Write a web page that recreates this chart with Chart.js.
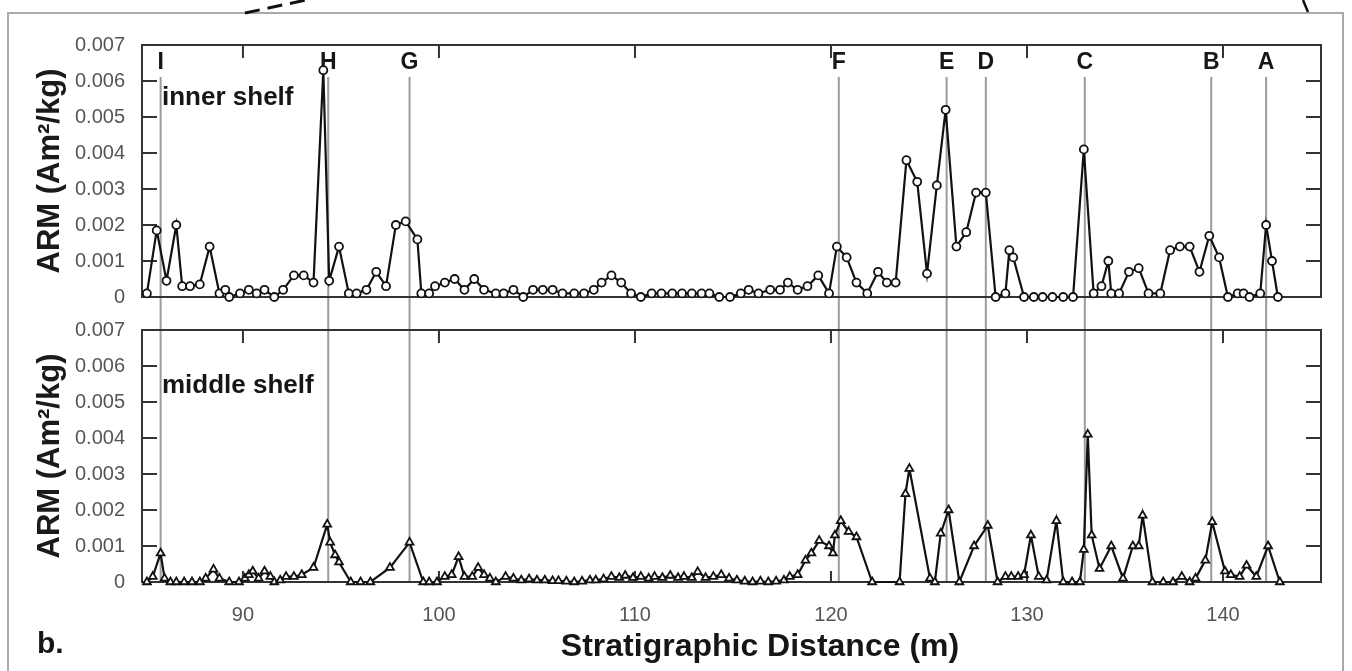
<!DOCTYPE html>
<html>
<head>
<meta charset="utf-8">
<script src="https://cdn.jsdelivr.net/npm/chart.js@4.4.1/dist/chart.umd.min.js"></script>
<style>
    html, body { margin: 0; padding: 0; background: #fff; }
    #wrap { position: relative; width: 1352px; height: 671px; overflow: hidden; }
    #wrap canvas { position: absolute; left: 0; top: 0; }
</style>
</head>
<body>
<div id="wrap">
    <canvas id="inner" width="1352" height="671"></canvas>
    <canvas id="middle" width="1352" height="671"></canvas>
</div>
<script>
// stratigraphic distance (m) and ARM (Am2/kg), inner shelf section
const innerDepth = [
    85.1, 85.6, 86.1, 86.6, 86.9, 87.3, 87.8, 88.3, 88.8, 89.1,
    89.3, 89.85, 90.3, 90.7, 91.1, 91.6, 92.05, 92.6, 93.1, 93.6,
    94.1, 94.4, 94.9, 95.4, 95.8, 96.3, 96.8, 97.3, 97.8, 98.3,
    98.9, 99.1, 99.5, 99.8, 100.3, 100.8, 101.3, 101.8, 102.3, 102.9,
    103.3, 103.8, 104.3, 104.8, 105.3, 105.8, 106.3, 106.9, 107.4, 107.9,
    108.3, 108.8, 109.3, 109.8, 110.3, 110.85, 111.35, 111.9, 112.4, 112.9,
    113.4, 113.8, 114.3, 114.85, 115.4, 115.8, 116.3, 116.9, 117.4, 117.8,
    118.3, 118.8, 119.35, 119.9, 120.3, 120.8, 121.3, 121.85, 122.4, 122.85,
    123.3, 123.85, 124.4, 124.9, 125.4, 125.85, 126.4, 126.9, 127.4, 127.9,
    128.4, 128.9, 129.1, 129.3, 129.85, 130.35, 130.8, 131.3, 131.85, 132.35,
    132.9, 133.4, 133.8, 134.15, 134.3, 134.7, 135.2, 135.7, 136.2, 136.8,
    137.3, 137.8, 138.3, 138.8, 139.3, 139.8, 140.25, 140.75, 141.05, 141.35,
    141.9, 142.2, 142.5, 142.8
];
const innerArm = [
    0.0001, 0.00185, 0.00045, 0.002, 0.0003, 0.0003, 0.00035, 0.0014, 0.0001, 0.0002,
    0, 0.0001, 0.0002, 0.0001, 0.0002, 0, 0.0002, 0.0006, 0.0006, 0.0004,
    0.0063, 0.00045, 0.0014, 0.0001, 0.0001, 0.0002, 0.0007, 0.0003, 0.002, 0.0021,
    0.0016, 0.0001, 0.0001, 0.0003, 0.0004, 0.0005, 0.0002, 0.0005, 0.0002, 0.0001,
    0.0001, 0.0002, 0, 0.0002, 0.0002, 0.0002, 0.0001, 0.0001, 0.0001, 0.0002,
    0.0004, 0.0006, 0.0004, 0.0001, 0, 0.0001, 0.0001, 0.0001, 0.0001, 0.0001,
    0.0001, 0.0001, 0, 0, 0.0001, 0.0002, 0.0001, 0.0002, 0.0002, 0.0004,
    0.0002, 0.0003, 0.0006, 0.0001, 0.0014, 0.0011, 0.0004, 0.0001, 0.0007, 0.0004,
    0.0004, 0.0038, 0.0032, 0.00065, 0.0031, 0.0052, 0.0014, 0.0018, 0.0029, 0.0029,
    0, 0.0001, 0.0013, 0.0011, 0, 0, 0, 0, 0, 0,
    0.0041, 0.0001, 0.0003, 0.001, 0.0001, 0.0001, 0.0007, 0.0008, 0.0001, 0.0001,
    0.0013, 0.0014, 0.0014, 0.0007, 0.0017, 0.0011, 0, 0.0001, 0.0001, 0,
    0.0001, 0.002, 0.001, 0
];

// middle shelf section
const middleDepth = [
    85.1, 85.4, 85.8, 86.0, 86.3, 86.6, 87.0, 87.4, 87.8, 88.1,
    88.5, 88.8, 89.3, 89.8, 90.1, 90.3, 90.5, 90.8, 91.1, 91.4,
    91.6, 91.9, 92.2, 92.6, 93.0, 93.6, 94.3, 94.45, 94.7, 94.9,
    95.5, 96.0, 96.5, 97.5, 98.5, 99.2, 99.5, 99.9, 100.3, 100.65,
    101.0, 101.3, 101.7, 102.0, 102.3, 102.6, 102.9, 103.4, 103.8, 104.2,
    104.6, 105.0, 105.4, 105.8, 106.1, 106.5, 106.9, 107.3, 107.7, 108.0,
    108.4, 108.8, 109.2, 109.5, 109.9, 110.3, 110.7, 111.0, 111.4, 111.8,
    112.2, 112.5, 112.9, 113.2, 113.6, 114.0, 114.4, 114.8, 115.2, 115.6,
    116.0, 116.4, 116.8, 117.2, 117.6, 117.9, 118.3, 118.7, 119.0, 119.4,
    119.9, 120.1, 120.2, 120.5, 120.9, 121.3, 122.1, 123.5, 123.8, 124.0,
    125.05, 125.3, 125.6, 126.0, 126.55, 127.3, 128.0, 128.5, 128.9, 129.2,
    129.55, 129.85, 130.2, 130.6, 131.0, 131.5, 131.85, 132.3, 132.7, 132.9,
    133.1, 133.3, 133.7, 134.3, 134.9, 135.4, 135.7, 135.9, 136.4, 136.95,
    137.45, 137.9, 138.3, 138.6, 139.1, 139.45, 140.1, 140.4, 140.85, 141.2,
    141.7, 142.3, 142.9
];
const middleArm = [
    0, 0.00015, 0.0008, 0.0001, 0, 0, 0, 0, 0, 0.0001,
    0.00035, 0.0001, 0, 0, 0.0001, 0.0002, 0.0003, 0.0001, 0.0003, 0.00015,
    0, 0.00005, 0.00015, 0.00015, 0.0002, 0.0004, 0.0016, 0.0011, 0.00075, 0.00055,
    0, 0, 0, 0.0004, 0.0011, 0, 0, 0, 0.00015, 0.0002,
    0.0007, 0.00015, 0.00015, 0.0004, 0.0002, 0.0001, 0, 0.00015, 0.0001, 0.00005,
    0.00008, 0.00005, 0.00005, 0.00003, 0.00003, 0.00002, 0, 0.00002, 0.00005, 0.00005,
    0.00008, 0.00015, 0.00012, 0.00018, 0.00012, 0.00015, 0.0001, 0.00015, 0.00012, 0.00018,
    0.00012, 0.00015, 0.00012, 0.00028, 0.00012, 0.00015, 0.0002, 0.0001, 0.00005, 0.00002,
    0, 0.00002, 0, 0.00002, 0.00005, 0.00015, 0.0002, 0.0006, 0.0008, 0.00115,
    0.001, 0.0008, 0.0013, 0.0017, 0.0014, 0.00125, 0, 0, 0.00245, 0.00315,
    0.0001, 0, 0.00135, 0.002, 0, 0.001, 0.00157, 0, 0.00015, 0.00015,
    0.00015, 0.0002, 0.0013, 0.00015, 0.00005, 0.0017, 0, 0, 0, 0.0009,
    0.0041, 0.0013, 0.00037, 0.001, 0.0001, 0.001, 0.001, 0.00185, 0, 0,
    0, 0.00015, 0, 0.0001, 0.0006, 0.00167, 0.0003, 0.0002, 0.00015, 0.00046,
    0.00015, 0.001, 0
];

// correlation horizons
const horizonDepth = [85.8, 94.35, 98.5, 120.4, 125.9, 127.9, 132.95, 139.4, 142.2];
const horizonLabels = ['I', 'H', 'G', 'F', 'E', 'D', 'C', 'B', 'A'];

const xMin = 84.85;
const xMax = 145;
const armMax = 0.007;
const panelGap = 33;
const fontFamily = '"Liberation Sans", Arial, Helvetica, sans-serif';

Chart.defaults.font.family = fontFamily;
Chart.defaults.color = '#555';

const toPoints = (xs, ys) => xs.map((x, i) => ({ x, y: ys[i] }));

const panelFrame = {
    id: 'panelFrame',
    beforeDatasetsDraw(chart, args, opts) {
        const { ctx, chartArea: a, scales: { x, y } } = chart;
        ctx.save();

        ctx.strokeStyle = '#9c9c9c';
        ctx.lineWidth = 2;
        ctx.beginPath();
        horizonDepth.forEach(d => {
            const px = x.getPixelForValue(d);
            ctx.moveTo(px, opts.horizonTop || a.top);
            ctx.lineTo(px, a.bottom + (opts.extendBelow || 0));
        });
        ctx.stroke();

        ctx.strokeStyle = '#333';
        ctx.lineWidth = 2;
        ctx.strokeRect(a.left, a.top, a.width, a.height);
        ctx.beginPath();
        y.ticks.forEach(t => {
            if (t.value <= 0 || t.value >= armMax) return;
            const py = y.getPixelForValue(t.value);
            ctx.moveTo(a.left, py);
            ctx.lineTo(a.left + 15, py);
            ctx.moveTo(a.right, py);
            ctx.lineTo(a.right - 15, py);
        });
        x.ticks.forEach(t => {
            const px = x.getPixelForValue(t.value);
            ctx.moveTo(px, a.top);
            ctx.lineTo(px, a.top + 13);
            if (opts.bottomTicks) {
                ctx.moveTo(px, a.bottom);
                ctx.lineTo(px, a.bottom - 11);
            }
        });
        ctx.stroke();

        ctx.fillStyle = '#161616';
        ctx.font = `bold 26px ${fontFamily}`;
        ctx.textBaseline = 'middle';
        ctx.fillText(opts.label, a.left + 20, opts.labelY);

        if (opts.letters) {
            ctx.font = `bold 23px ${fontFamily}`;
            ctx.textAlign = 'center';
            horizonDepth.forEach((d, i) => {
                ctx.fillText(horizonLabels[i], x.getPixelForValue(d), 63);
            });
        }
        ctx.restore();
    }
};

const figureExtras = {
    id: 'figureExtras',
    beforeDraw(chart, args, opts) {
        if (!opts.sheet) return;
        const { ctx } = chart;
        ctx.save();
        ctx.strokeStyle = '#aaa';
        ctx.lineWidth = 2;
        ctx.beginPath();
        ctx.moveTo(8, 671);
        ctx.lineTo(8, 13);
        ctx.lineTo(1343, 13);
        ctx.lineTo(1343, 671);
        ctx.stroke();

        ctx.strokeStyle = '#111';
        ctx.lineWidth = 3;
        ctx.setLineDash([15, 8]);
        ctx.beginPath();
        ctx.moveTo(245, 13);
        ctx.lineTo(306, 0);
        ctx.stroke();
        ctx.setLineDash([]);
        ctx.lineWidth = 2.5;
        ctx.beginPath();
        ctx.moveTo(1303, 0);
        ctx.lineTo(1308, 12);
        ctx.stroke();
        ctx.restore();
    },
    afterDraw(chart, args, opts) {
        if (!opts.caption) return;
        const { ctx } = chart;
        ctx.save();
        ctx.fillStyle = '#161616';
        ctx.font = `bold 32px ${fontFamily}`;
        ctx.textAlign = 'center';
        ctx.fillText('Stratigraphic Distance (m)', 760, 656);
        ctx.textAlign = 'left';
        ctx.font = `bold 30px ${fontFamily}`;
        ctx.fillText('b.', 37, 653);
        ctx.restore();
    }
};

const lineSet = (data, style) => ({
    data,
    borderColor: '#111',
    borderWidth: 2.2,
    tension: 0,
    clip: false,
    pointStyle: style,
    pointRadius: style === 'triangle' ? 4.5 : 4,
    pointBackgroundColor: '#fff',
    pointBorderColor: '#111',
    pointBorderWidth: 1.8
});

const armAxis = () => ({
    min: 0,
    max: armMax,
    ticks: {
        stepSize: 0.001,
        padding: 9,
        color: '#555',
        font: { size: 20 },
        callback: v => v === 0 ? '0' : v.toFixed(3)
    },
    grid: { display: false },
    border: { display: false },
    title: {
        display: true,
        text: 'ARM (Am²/kg)',
        color: '#1a1a1a',
        font: { size: 31, weight: 'bold' },
        padding: { top: 32 }
    },
    afterFit: s => { s.width = 142; }
});

const distanceAxis = (showLabels, height) => ({
    type: 'linear',
    min: xMin,
    max: xMax,
    ticks: {
        display: showLabels,
        stepSize: 10,
        includeBounds: false,
        padding: 13,
        color: '#555',
        font: { size: 20 }
    },
    grid: { display: false },
    border: { display: false },
    afterFit: s => { s.height = height; }
});

new Chart(document.getElementById('inner'), {
    type: 'line',
    data: { datasets: [lineSet(toPoints(innerDepth, innerArm), 'circle')] },
    options: {
        responsive: false,
        animation: false,
        events: [],
        layout: { padding: { top: 45, right: 31, left: 0, bottom: 0 } },
        scales: { x: distanceAxis(false, 374), y: armAxis() },
        plugins: {
            legend: { display: false },
            tooltip: { enabled: false },
            panelFrame: { label: 'inner shelf', labelY: 98, horizonTop: 77, extendBelow: panelGap, letters: true, bottomTicks: false },
            figureExtras: { sheet: true }
        }
    },
    plugins: [figureExtras, panelFrame]
});

new Chart(document.getElementById('middle'), {
    type: 'line',
    data: { datasets: [lineSet(toPoints(middleDepth, middleArm), 'triangle')] },
    options: {
        responsive: false,
        animation: false,
        events: [],
        layout: { padding: { top: 330, right: 31, left: 0, bottom: 0 } },
        scales: { x: distanceAxis(true, 89), y: armAxis() },
        plugins: {
            legend: { display: false },
            tooltip: { enabled: false },
            panelFrame: { label: 'middle shelf', labelY: 386, bottomTicks: true },
            figureExtras: { caption: true }
        }
    },
    plugins: [figureExtras, panelFrame]
});
</script>
</body>
</html>
